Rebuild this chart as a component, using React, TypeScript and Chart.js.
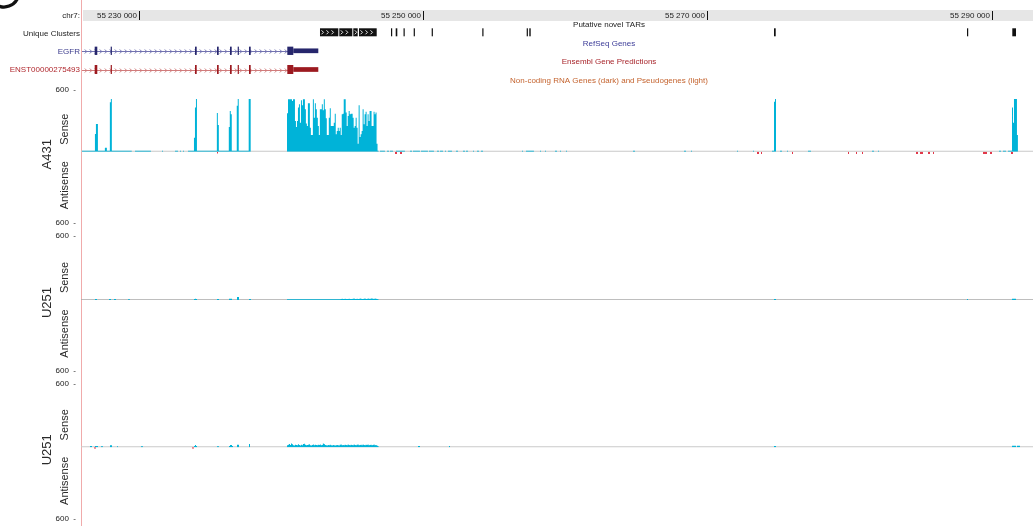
import React, { useEffect, useRef } from "react";
import { Chart, registerables } from "chart.js";
Chart.register(...registerables);

const FONT = '"Liberation Sans", Arial, Helvetica, sans-serif';

// ---------- data ----------
const CHROM = "chr7:";
const X_MIN = 55225930;
const X_MAX = 55292903;
const BIN = 70;
const rulerTicks = [55230000, 55250000, 55270000, 55290000];
const cellLines = ["A431", "U251", "U251"];

const tarBlocks: [number, number][] = [
  [55242743, 55244031], [55244101, 55245016], [55245086, 55245396], [55245487, 55246732],
  [55247738, 55247809], [55248069, 55248182], [55248620, 55248690], [55249335, 55249405],
  [55250601, 55250672], [55254161, 55254231], [55257285, 55257355], [55257468, 55257566],
  [55274682, 55274802], [55288260, 55288331], [55291447, 55291707],
];

const geneStart = X_MIN;
const egfrExons: [number, number][] = [
  [55226893, 55227076], [55228019, 55228089], [55233950, 55234069], [55235497, 55235617],
  [55236412, 55236531], [55236953, 55237024], [55237748, 55237868], [55240443, 55240865],
];
const egfrUtr: [number, number] = [55240865, 55242624];
const enstExons: [number, number][] = [
  [55226893, 55227076], [55228019, 55228089], [55233950, 55234069], [55235497, 55235617],
  [55236412, 55236531], [55236953, 55237024], [55237748, 55237868], [55240443, 55240865],
];
const enstUtr: [number, number] = [55240865, 55242624];

type Run = [number, number[]];

const a431Sense: Run[] = [
  [55226000, [10,10,10,10,10,10,10,10,10,10,10,10,10,170,266,266,10,10,10,10,10,10,10,38,38,10,10,10,475,507,10,10,10,10,10,10,10,10,10,10,10,10,10,10,10,10,10,10,10,10]],
  [55229729, [10,10,10,10,10,10,10,10,10,10,10,10,10,10,10,10]],
  [55231628, [10]],
  [55232543, [10,10,10]],
  [55232894, [10]],
  [55233105, [10]],
  [55233457, [10,10,10,10,10,10,135,424,507,10,10,10,10,10,10,10,10,10,10,10,10,10,10,10,10,10,10,10,10,372,257,10,10,10,10,10,10,10,10,10,10,237,392,360,10,10,10,10,10,443,507,10,10,10,10,10,10,10,10,10,10,507,507]],
  [55240422, [369,504,504,504,504,488,504,504,295,237,
              295,424,456,279,494,446,504,504,408,270,
              247,465,465,231,160,160,504,327,465,408,
              327,247,160,408,408,456,398,504,408,321,
              160,160,327,417,247,247,247,279,366,167,
              199,231,199,231,160,360,366,504,504,376,
              247,343,392,360,366,366,327,231,247,327,
              231,77,446,141,167,199,408,263,360,385,
              247,360,295,392,392,247,247,385,360,376,
              77,10]],
  [55246964, [10,10,10,10,10]],
  [55247457, [10,10]],
  [55247668, [10,10,10]],
  [55248090, [10,10,10,10,10,10,10,10,10]],
  [55249075, [10,10]],
  [55249286, [10,10,10,10,10,10,10]],
  [55249849, [10,10,10,10,10,10,10]],
  [55250411, [10,10,10,10,10]],
  [55250974, [10,10]],
  [55251185, [10,10,10]],
  [55251537, [10]],
  [55251748, [10,10,10,10]],
  [55252311, [10,10]],
  [55252803, [10,10]],
  [55253014, [10,10]],
  [55253507, [10]],
  [55253788, [10,10]],
  [55254070, [10,10]],
  [55256954, [10]],
  [55257235, [10,10,10,10,10,10,10,10]],
  [55258220, [10]],
  [55258572, [10]],
  [55259276, [10,10]],
  [55259627, [10]],
  [55260049, [10]],
  [55264763, [10,10]],
  [55268351, [10,10]],
  [55268843, [10]],
  [55272079, [10]],
  [55273205, [10]],
  [55274542, [10,10,481,507]],
  [55275104, [10,10]],
  [55275597, [10]],
  [55277074, [10,10,10]],
  [55281577, [10,10]],
  [55281999, [10]],
  [55290511, [10,10]],
  [55290792, [10,10,10]],
  [55291144, [10,10,10,10,424,279,507,507,507,160]],
];

const a431Antisense: Run[] = [
  [55235497, [15]],
  [55248020, [20,20]],
  [55248371, [20,20]],
  [55273486, [20,20]],
  [55273768, [20]],
  [55275949, [20]],
  [55279888, [20]],
  [55280451, [20]],
  [55280873, [20]],
  [55284672, [20,20]],
  [55284953, [20,20,20]],
  [55285516, [20,20]],
  [55285868, [20]],
  [55289385, [20,20,20,20]],
  [55289878, [20,20]],
  [55291355, [20,20]],
];

const u251aSense: Run[] = [
  [55226915, [10,10]],
  [55227899, [10,10]],
  [55228251, [10,10]],
  [55229236, [8,8]],
  [55233879, [10,12,10]],
  [55235497, [10,10]],
  [55236341, [12,12,12]],
  [55236904, [28,28]],
  [55237748, [10,10]],
  [55240422, [8,8,8,8,8,8,8,8,8,8,
              8,8,8,8,8,8,8,8,8,8,
              8,8,8,8,8,8,8,8,8,8,
              8,8,8,8,8,8,8,8,8,8,
              8,8,8,8,8,8,8,8,8,8,
              8,8,8,8,
              10,12,10,10,12,10,10,10,12,10,
              10,10,12,14,10,10,12,10,10,14,
              12,10,10,12,14,10,10,14,12,10,
              14,14,12,10,14,12,10,8]],
  [55274682, [10,10]],
  [55288260, [10]],
  [55291426, [12,12,12,12]],
];
const u251aAntisense: Run[] = [];

const u251bSense: Run[] = [
  [55226563, [12,12]],
  [55226915, [12,12,12]],
  [55227337, [10,10]],
  [55227970, [20,20]],
  [55228462, [10]],
  [55230151, [10,10]],
  [55233879, [12,22,12]],
  [55235497, [10,10]],
  [55236341, [12,22,22,12]],
  [55236904, [25,25]],
  [55237748, [31]],
  [55240422, [20,25,30,22,35,28,20,18,25,22,
              20,28,22,18,25,20,30,33,24,20,
              22,25,28,20,18,22,26,20,24,22,
              20,24,22,26,20,22,35,30,22,20,
              18,22,20,24,20,18,22,20,18,20,
              22,20,18,24,26,20,22,20,24,22,
              20,26,22,20,24,22,20,26,22,20,
              24,26,20,22,24,20,26,22,20,24,
              22,26,20,22,24,20,22,26,20,22,
              18,12]],
  [55249638, [12,12]],
  [55251818, [12]],
  [55274682, [12,12]],
  [55291426, [15,15,15,15]],
  [55291777, [15,15,15]],
];
const u251bAntisense: Run[] = [
  [55226844, [10,10]],
  [55233739, [10,10]],
];

const senseSeries = [a431Sense, u251aSense, u251bSense];
const antisenseSeries = [a431Antisense, u251aAntisense, u251bAntisense];

// ---------- styles ----------
const PINK = "#f0abab";
const CYAN = "#00b3d8";
const RED = "#e2384a";
const TITLE_X = 609;
const LABEL_X = 80;
const AXIS_W = 81;

function stepPoints(runs: Run[]) {
  const pts: { x: number; y: number }[] = [];
  for (const [start, vals] of runs) {
    vals.forEach((v, i) => pts.push({ x: start + i * BIN, y: v }));
    pts.push({ x: start + vals.length * BIN, y: 0 });
  }
  return pts;
}

function fmtCoord(v: number) {
  return String(v).replace(/\B(?=(\d{3})+(?!\d))/g, " ");
}

const fitAxis = (s: any) => {
  s.width = AXIS_W;
  s.paddingTop = 0;
  s.paddingBottom = 0;
};

function trackScale(h: number, weight: number) {
  return {
    type: "linear", axis: "y", position: "left", stack: "tracks", stackWeight: h, weight,
    min: 0, max: 1,
    ticks: { display: false },
    grid: { display: false, drawTicks: false },
    border: { display: true, color: PINK, width: 1 },
    afterFit: fitAxis,
  };
}
function dataScale(h: number, weight: number, reverse: boolean) {
  return {
    type: "linear", axis: "y", position: "left", stack: "tracks", stackWeight: h, weight,
    min: 0, max: 600, reverse,
    afterBuildTicks: (s: any) => { s.ticks = [{ value: 600 }]; },
    ticks: {
      display: true, padding: 5, color: "#222",
      font: { family: FONT, size: 8 },
      callback: (v: any) => `${v}  -`,
    },
    grid: { display: false, drawTicks: false },
    border: { display: true, color: PINK, width: 1 },
    afterFit: fitAxis,
  };
}

const tracksPlugin = {
  id: "tracks",
  afterDraw(chart: any) {
    const { ctx, chartArea: area, scales } = chart;
    const xs = scales.x;
    const px = (v: number) => xs.getPixelForValue(v);
    const font = (s: number) => `${s}px ${FONT}`;
    ctx.save();

    // cropped panel letter in the corner
    ctx.strokeStyle = "#111";
    ctx.lineWidth = 3.2;
    ctx.beginPath();
    ctx.arc(4, -8, 15, 0.45, 2.0);
    ctx.stroke();

    ctx.textBaseline = "middle";

    // ruler
    const r = scales.ruler;
    ctx.fillStyle = "#e6e6e6";
    ctx.fillRect(area.left + 2, r.top + 10, area.right - area.left - 2, 11);
    ctx.font = font(8);
    ctx.textAlign = "right";
    ctx.fillStyle = "#222";
    ctx.fillText(CHROM, LABEL_X, r.top + 15.8);
    for (const t of rulerTicks) {
      const tx = Math.round(px(t));
      ctx.fillStyle = "#111";
      ctx.fillRect(tx, r.top + 11, 1, 9);
      ctx.fillStyle = "#222";
      ctx.fillText(fmtCoord(t), tx - 2, r.top + 15.8);
    }

    // TARs
    const tr = scales.tars;
    ctx.textAlign = "center";
    ctx.fillStyle = "#222";
    ctx.fillText("Putative novel TARs", TITLE_X, tr.top + 3);
    ctx.textAlign = "right";
    ctx.fillText("Unique Clusters", LABEL_X, tr.top + 11.8);
    const by = tr.top + 6.3;
    const bh = 8;
    for (const [s, e] of tarBlocks) {
      const x0 = px(s);
      const x1 = px(e);
      const w = Math.max(1.2, x1 - x0);
      ctx.fillStyle = "#111";
      ctx.fillRect(x0, by, w, bh);
      if (w > 4) {
        ctx.strokeStyle = "#fff";
        ctx.lineWidth = 0.9;
        for (let cx = x0 + 2.5; cx < x1 - 1.5; cx += 5) {
          ctx.beginPath();
          ctx.moveTo(cx - 1, by + 2);
          ctx.lineTo(cx + 1, by + 4);
          ctx.lineTo(cx - 1, by + 6);
          ctx.stroke();
        }
      }
    }

    // gene models
    const drawGene = (
      scaleId: string, label: string, labelColor: string,
      title: string, titleColor: string, titleOff: number,
      exonColor: string, lineColor: string,
      exons: [number, number][], utr: [number, number],
      yOff: number, tall: number, short: number
    ) => {
      const sc = scales[scaleId];
      const yc = sc.top + yOff;
      ctx.font = font(8);
      ctx.textAlign = "center";
      ctx.fillStyle = titleColor;
      ctx.fillText(title, TITLE_X, sc.top + titleOff);
      ctx.textAlign = "right";
      ctx.fillStyle = labelColor;
      ctx.fillText(label, LABEL_X, yc + 0.5);
      const xl = Math.max(px(geneStart), area.left + 1);
      const xr = px(utr[0]);
      const ly = Math.round(yc) + 0.5;
      ctx.strokeStyle = lineColor;
      ctx.lineWidth = 1;
      ctx.beginPath();
      ctx.moveTo(xl, ly);
      ctx.lineTo(xr, ly);
      ctx.stroke();
      for (let cx = xl + 4; cx < xr - 2; cx += 5) {
        ctx.beginPath();
        ctx.moveTo(cx - 1.2, ly - 2);
        ctx.lineTo(cx + 0.8, ly);
        ctx.lineTo(cx - 1.2, ly + 2);
        ctx.stroke();
      }
      ctx.fillStyle = exonColor;
      for (const [s, e] of exons) {
        const x0 = px(s);
        ctx.fillRect(x0, yc - tall / 2, Math.max(1.2, px(e) - x0), tall);
      }
      ctx.fillRect(px(utr[0]), yc - short / 2, px(utr[1]) - px(utr[0]), short);
    };
    drawGene("refseq", "EGFR", "#3a3a8c", "RefSeq Genes", "#3c3c98", 3.3,
      "#26266c", "#7272b0", egfrExons, egfrUtr, 10.8, 8.3, 4.7);
    drawGene("ensembl", "ENST00000275493", "#b0282e", "Ensembl Gene Predictions", "#a8262c", 4,
      "#9c1a20", "#d07c7c", enstExons, enstUtr, 11.5, 9, 4.7);

    const nc = scales.ncrna;
    ctx.font = font(8);
    ctx.textAlign = "center";
    ctx.fillStyle = "#c4632e";
    ctx.fillText("Non-coding RNA Genes (dark) and Pseudogenes (light)", TITLE_X, nc.top + 4.3);

    // panel labels
    const rot = (t: string, x: number, y: number, size: number) => {
      ctx.save();
      ctx.translate(x, y);
      ctx.rotate(-Math.PI / 2);
      ctx.textAlign = "center";
      ctx.textBaseline = "alphabetic";
      ctx.font = font(size);
      ctx.fillStyle = "#2a2a2a";
      ctx.fillText(t, 0, 0);
      ctx.restore();
    };
    ["s1", "s2", "s3"].forEach((id, i) => {
      const base = scales[id].bottom;
      rot(cellLines[i], 50.7, base + 2.5, 13);
      rot("Sense", 68.3, base - 22.5, 11);
      rot("Antisense", 68.3, base + 33.5, 11);
    });

    ctx.restore();
  },
};

export default function App() {
  const ref = useRef<HTMLCanvasElement>(null);
  useEffect(() => {
    const canvas = ref.current;
    if (!canvas) return;
    const datasets: any[] = [];
    const greys = ["#c8c8c8", "#a9a9a9", "#cacaca"];
    const widths = [2, 1.4, 2];
    for (let i = 0; i < 3; i++) {
      datasets.push({
        label: `${cellLines[i]} sense`, data: stepPoints(senseSeries[i]),
        yAxisID: `s${i + 1}`, xAxisID: "x", stepped: true, fill: "origin",
        backgroundColor: CYAN, borderColor: "rgba(0,0,0,0)", borderWidth: 0,
        pointRadius: 0, order: 0,
      });
      datasets.push({
        label: `${cellLines[i]} antisense`, data: stepPoints(antisenseSeries[i]),
        yAxisID: `a${i + 1}`, xAxisID: "x", stepped: true, fill: "origin",
        backgroundColor: RED, borderColor: "rgba(0,0,0,0)", borderWidth: 0,
        pointRadius: 0, order: 0,
      });
      datasets.push({
        label: `${cellLines[i]} baseline`, data: [{ x: X_MIN, y: 0 }, { x: X_MAX, y: 0 }],
        yAxisID: `s${i + 1}`, xAxisID: "x", fill: false,
        borderColor: greys[i], borderWidth: widths[i], pointRadius: 0, order: 1,
      });
    }
    const chart = new Chart(canvas, {
      type: "line",
      data: { datasets },
      options: {
        animation: false,
        responsive: false,
        devicePixelRatio: 1,
        events: [],
        layout: { padding: 0, autoPadding: false },
        plugins: { legend: { display: false }, tooltip: { enabled: false }, title: { display: false } },
        scales: {
          x: { type: "linear", min: X_MIN, max: X_MAX, display: false },
          ruler: trackScale(22, 14),
          tars: trackScale(18, 13),
          refseq: trackScale(18, 12),
          ensembl: trackScale(18, 11),
          ncrna: trackScale(13.3, 10),
          s1: dataScale(62.4, 9, false),
          a1: dataScale(71, 8, true),
          g1: trackScale(13, 7),
          s2: dataScale(64.3, 6, false),
          a2: dataScale(71, 5, true),
          g2: trackScale(12.7, 4),
          s3: dataScale(63.6, 3, false),
          a3: dataScale(71, 2, true),
          bot: trackScale(7.7, 1),
        } as any,
      },
      plugins: [tracksPlugin],
    } as any);
    return () => chart.destroy();
  }, []);
  return (
    <div style={{ position: "fixed", left: 0, top: 0, width: 1033, height: 526, background: "#fff" }}>
      <canvas ref={ref} width={1033} height={526} style={{ display: "block", width: 1033, height: 526 }} />
    </div>
  );
}
